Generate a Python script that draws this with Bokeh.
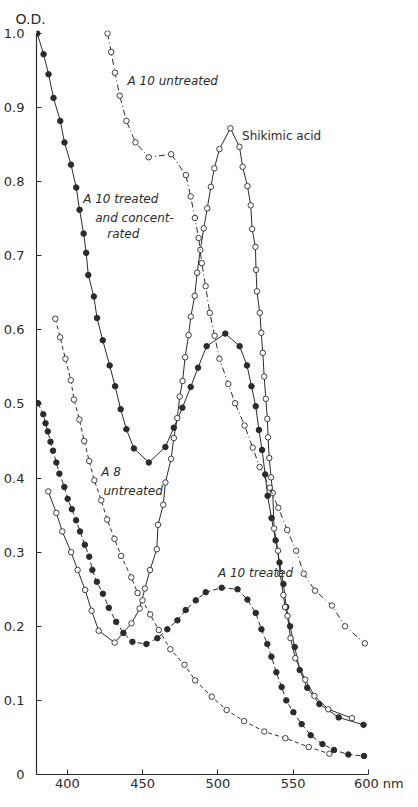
from bokeh.plotting import figure
from bokeh.models import Range1d, FixedTicker, Label, CustomJSTickFormatter
from bokeh.embed import file_html
from bokeh.resources import INLINE

# ---- data (wavelength in nm, optical density) ----
conc_x = [380, 384.2, 387.5, 390.8, 395.3, 398.1, 402.4, 405.9, 408.1, 410.8, 412.5, 413.9,
          417.6, 419.7, 423.5, 428.1, 431.7, 435.4, 439.2, 444.2, 454.1, 465.1, 470.7, 476.4,
          481.9, 486.8, 492.5, 504.9, 514.4, 519.3, 522.3, 525.1, 527.2, 529.3, 531.4, 533.0,
          535.6, 538.3, 540.9, 543.5, 545.4, 547.9, 551.0, 554.3, 559.3, 567.4, 580.2, 596.7]
conc_y = [1.000, 0.972, 0.945, 0.913, 0.882, 0.853, 0.823, 0.792, 0.762, 0.730, 0.704, 0.674,
          0.645, 0.616, 0.586, 0.552, 0.524, 0.493, 0.466, 0.440, 0.421, 0.442, 0.468, 0.495,
          0.523, 0.549, 0.578, 0.595, 0.578, 0.552, 0.524, 0.497, 0.465, 0.438, 0.405, 0.376,
          0.346, 0.316, 0.286, 0.257, 0.226, 0.200, 0.172, 0.141, 0.117, 0.095, 0.077, 0.067]

treat_x = [380.5, 384.0, 385.5, 387.0, 388.8, 390.5, 392.7, 394.7, 398.0, 400.2, 403.0, 405.8,
           408.4, 411.6, 414.5, 416.6, 419.6, 423.6, 427.5, 432.4, 437.2, 443.2, 452.5, 459.8,
           466.4, 473.1, 478.6, 485.3, 491.9, 502.5, 513.0, 519.6, 525.1, 528.9, 532.8, 535.5,
           538.8, 542.3, 545.4, 550.1, 555.6, 561.6, 569.4, 577.1, 586.6, 597.0]
treat_y = [0.501, 0.486, 0.474, 0.463, 0.449, 0.437, 0.421, 0.406, 0.388, 0.372, 0.358, 0.343,
           0.328, 0.310, 0.294, 0.276, 0.260, 0.244, 0.225, 0.206, 0.191, 0.179, 0.176, 0.184,
           0.196, 0.208, 0.222, 0.235, 0.246, 0.252, 0.250, 0.236, 0.218, 0.196, 0.176, 0.159,
           0.138, 0.118, 0.100, 0.084, 0.068, 0.053, 0.041, 0.033, 0.027, 0.025]

shik_x = [387.3, 392.7, 396.6, 402.5, 406.8, 411.8, 416.1, 420.8, 431.4, 442.6, 448.0, 451.5,
          454.9, 459.4, 460.2, 463.7, 465.1, 468.9, 470.7, 473.0, 474.6, 476.5, 478.2, 480.5,
          482.0, 484.6, 486.2, 488.3, 490.6, 492.9, 495.3, 497.6, 501.0, 508.3, 514.3, 516.4,
          519.6, 521.8, 522.7, 524.9, 525.3, 525.9, 527.8, 528.8, 529.8, 530.7, 531.8, 532.8,
          533.3, 534.1, 535.3, 536.4, 537.3, 539.9, 541.3, 543.5, 544.6, 546.2, 548.2, 551.4,
          558.0, 564.1, 573.3, 589.0]
shik_y = [0.382, 0.353, 0.328, 0.300, 0.276, 0.249, 0.221, 0.194, 0.178, 0.204, 0.224, 0.251,
          0.276, 0.304, 0.337, 0.364, 0.394, 0.426, 0.454, 0.481, 0.510, 0.531, 0.563, 0.593,
          0.618, 0.646, 0.677, 0.708, 0.737, 0.764, 0.793, 0.818, 0.844, 0.872, 0.847, 0.820,
          0.794, 0.768, 0.736, 0.712, 0.681, 0.652, 0.623, 0.596, 0.569, 0.537, 0.507, 0.480,
          0.455, 0.427, 0.401, 0.380, 0.332, 0.302, 0.271, 0.242, 0.226, 0.214, 0.184, 0.157,
          0.128, 0.106, 0.088, 0.076]

a10u_x = [426.7, 429.1, 431.6, 434.8, 439.2, 445.2, 454.0, 468.9, 478.7, 481.9, 484.7, 487.2,
          489.3, 491.8, 494.6, 497.8, 501.0, 506.9, 511.4, 517.7, 523.1, 527.7, 534.4, 540.1,
          546.0, 552.0, 557.0, 564.5, 575.7, 584.4, 597.6]
a10u_y = [1.000, 0.975, 0.947, 0.916, 0.882, 0.853, 0.833, 0.837, 0.809, 0.780, 0.751, 0.724,
          0.690, 0.659, 0.623, 0.592, 0.561, 0.527, 0.501, 0.471, 0.441, 0.415, 0.387, 0.360,
          0.330, 0.302, 0.271, 0.248, 0.228, 0.200, 0.177]

a8_x = [392.0, 395.2, 398.7, 402.3, 404.4, 408.0, 411.2, 414.5, 417.9, 422.5, 426.4, 431.3,
        435.7, 442.5, 446.6, 449.9, 455.0, 460.7, 468.4, 477.8, 484.9, 495.9, 505.8, 517.4,
        530.8, 544.8, 560.3, 574.0]
a8_y = [0.615, 0.590, 0.561, 0.532, 0.506, 0.479, 0.450, 0.423, 0.397, 0.370, 0.344, 0.318,
        0.295, 0.266, 0.245, 0.235, 0.216, 0.195, 0.169, 0.148, 0.127, 0.105, 0.087, 0.072,
        0.058, 0.049, 0.037, 0.028]

x_ticks = [400, 450, 500, 550, 600]
y_ticks = [0, 0.1, 0.2, 0.3, 0.4, 0.5, 0.6, 0.7, 0.8, 0.9, 1.0]
y_title = "O.D."
x_unit = "nm"

FONT = "DejaVu Sans"
INK = "#2b2b2b"

p = figure(frame_width=332, frame_height=744,
           x_range=Range1d(379.5, 600), y_range=Range1d(0, 1.004),
           output_backend="svg", toolbar_location=None,
           min_border_left=34, min_border_top=30, min_border_right=36, min_border_bottom=0,
           background_fill_color="white", border_fill_color="white",
           title=y_title)
p.title.text_font = FONT
p.title.text_font_size = "14px"
p.title.text_font_style = "normal"
p.title.text_color = INK
p.title.align = "left"
p.title.offset = -21
p.title.standoff = 8
p.outline_line_color = None
p.xgrid.visible = False
p.ygrid.visible = False

for ax in (p.xaxis[0], p.yaxis[0]):
    ax.axis_line_color = INK
    ax.axis_line_width = 1.2
    ax.major_tick_line_color = INK
    ax.major_tick_in = 5
    ax.major_tick_out = 0
    ax.minor_tick_line_color = None
    ax.major_label_text_font = FONT
    ax.major_label_text_font_size = "13px"
    ax.major_label_text_color = INK

p.xaxis[0].ticker = FixedTicker(ticks=x_ticks)
p.xaxis[0].major_label_standoff = 1
p.xaxis[0].formatter = CustomJSTickFormatter(
    args=dict(last=x_ticks[-1], unit=x_unit),
    code="return tick == last ? '\\u2007\\u2007\\u00a0' + tick.toFixed(0) + ' ' + unit : tick.toFixed(0);")
p.yaxis[0].ticker = FixedTicker(ticks=y_ticks)
p.yaxis[0].major_label_standoff = 12
p.yaxis[0].formatter = CustomJSTickFormatter(
    code="return tick == 0 ? '0' : tick.toFixed(1);")
p.yaxis[0].bounds = (0, 1.0)

lw = 1.0
# A10 treated and concentrated: solid, filled dots
p.line(conc_x, conc_y, line_color=INK, line_width=lw)
p.scatter(conc_x, conc_y, size=5.5, fill_color=INK, line_color=INK)
# Shikimic acid: solid, open circles
p.line(shik_x, shik_y, line_color=INK, line_width=lw)
p.scatter(shik_x, shik_y, size=5.5, fill_color="white", line_color=INK, line_width=0.9)
# A10 untreated: dash-dot, open circles
p.line(a10u_x, a10u_y, line_color=INK, line_width=lw, line_dash="6 3 1 3")
p.scatter(a10u_x, a10u_y, size=5.5, fill_color="white", line_color=INK, line_width=0.9)
# A8 untreated: short dashes, open circles
p.line(a8_x, a8_y, line_color=INK, line_width=lw, line_dash="4 3")
p.scatter(a8_x, a8_y, size=5.5, fill_color="white", line_color=INK, line_width=0.9)
# A10 treated: dashed, filled dots
p.line(treat_x, treat_y, line_color=INK, line_width=lw, line_dash="5 3")
p.scatter(treat_x, treat_y, size=5.5, fill_color=INK, line_color=INK)

def lab(x, y, t, italic=True, size="12px"):
    p.add_layout(Label(x=x, y=y, text=t, text_font=FONT, text_font_size=size,
                       text_font_style="italic" if italic else "normal",
                       text_color=INK, text_baseline="middle", text_align="left"))

lab(440.0, 0.936, "A 10 untreated")
lab(516.0, 0.861, "Shikimic acid", italic=False)
lab(410.5, 0.776, "A 10 treated")
lab(418.5, 0.751, "and concent-")
lab(426.5, 0.729, "rated")
lab(422.5, 0.408, "A 8")
lab(424.0, 0.383, "untreated")
lab(500.0, 0.272, "A 10 treated")

open("out.html", "w").write(file_html(p, INLINE))
